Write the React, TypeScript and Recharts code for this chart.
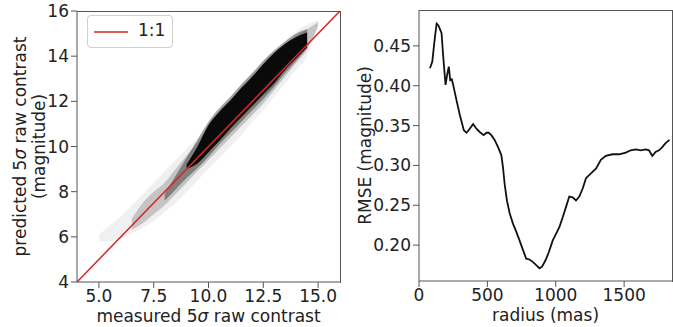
import { Area, ComposedChart, Line, LineChart, XAxis, YAxis } from 'recharts';

const measured = [4, 5.0, 5.5, 6.0, 6.5, 7.0, 7.5, 8.0, 8.5, 9.0, 9.5, 10.0, 10.5, 11.0, 11.5, 12.0, 12.5, 13.0, 13.5, 14.0, 14.5, 15.0, 16];
const outerLow = [null, 5.8, 5.8, 5.95, 6.15, 6.4, 6.7, 7.1, 7.5, 8.0, 8.5, 9.0, 9.5, 10.0, 10.5, 11.1, 11.6, 12.2, 12.8, 13.4, 14.0, 15.3, null];
const outerHigh = [null, 6.1, 6.5, 6.9, 7.4, 7.9, 8.4, 8.9, 9.4, 9.9, 10.4, 11.0, 11.6, 12.2, 12.8, 13.3, 13.8, 14.3, 14.7, 15.1, 15.4, 15.6, null];
const midLow = [null, null, null, null, 6.3, 6.6, 7.0, 7.4, 7.9, 8.4, 8.9, 9.4, 9.9, 10.4, 10.9, 11.4, 11.9, 12.5, 13.1, 13.7, 14.3, 15.35, null];
const midHigh = [null, null, null, null, 6.8, 7.5, 8.0, 8.4, 9.0, 9.6, 10.2, 10.9, 11.5, 12.0, 12.5, 13.0, 13.6, 14.0, 14.5, 14.9, 15.2, 15.5, null];
const darkLow = [null, null, null, null, null, null, null, 7.6, 8.1, 8.6, 9.05, 9.55, 10.1, 10.6, 11.1, 11.6, 12.1, 12.65, 13.25, 13.8, 14.35, null, null];
const darkHigh = [null, null, null, null, null, null, null, 7.9, 8.7, 9.5, 10.3, 11.1, 11.7, 12.2, 12.75, 13.25, 13.8, 14.25, 14.65, 15.0, 15.2, null, null];
const coreLow = [null, null, null, null, null, null, null, null, null, 9.0, 9.25, 9.75, 10.25, 10.8, 11.3, 11.8, 12.3, 12.8, 13.4, 13.9, 14.4, null, null];
const coreHigh = [null, null, null, null, null, null, null, null, null, 9.2, 10.0, 10.95, 11.55, 12.05, 12.6, 13.1, 13.65, 14.15, 14.55, 14.85, 15.05, null, null];
const identity = [4, null, null, null, null, null, null, null, null, null, null, null, null, null, null, null, null, null, null, null, null, null, 16];

const leftXTicks = [5, 7.5, 10, 12.5, 15];
const leftXTickLabels = ['5.0', '7.5', '10.0', '12.5', '15.0'];
const leftYTicks = [4, 6, 8, 10, 12, 14, 16];

// right panel: RMSE vs radius
const radius = [80, 97, 117, 129, 141, 153, 165, 177, 194, 206, 218, 228, 240, 250, 274, 299, 328, 347, 371, 396, 420, 444, 473, 493, 510, 529, 553, 578, 602, 614, 626, 643, 663, 687, 711, 735, 760, 784, 808, 832, 857, 881, 900, 925, 949, 978, 1002, 1027, 1051, 1075, 1099, 1124, 1148, 1172, 1197, 1221, 1257, 1294, 1330, 1366, 1415, 1464, 1512, 1548, 1585, 1621, 1657, 1682, 1706, 1730, 1755, 1779, 1803, 1832];
const rmse = [0.422, 0.43, 0.462, 0.478, 0.476, 0.471, 0.466, 0.437, 0.401, 0.414, 0.424, 0.407, 0.408, 0.401, 0.382, 0.363, 0.344, 0.341, 0.346, 0.352, 0.346, 0.342, 0.338, 0.341, 0.341, 0.338, 0.332, 0.323, 0.313, 0.298, 0.277, 0.256, 0.24, 0.227, 0.217, 0.206, 0.194, 0.183, 0.182, 0.179, 0.175, 0.171, 0.173, 0.181, 0.191, 0.206, 0.214, 0.223, 0.235, 0.248, 0.261, 0.26, 0.256, 0.261, 0.271, 0.284, 0.29, 0.296, 0.307, 0.312, 0.314, 0.314, 0.316, 0.319, 0.32, 0.319, 0.32, 0.319, 0.312, 0.317, 0.319, 0.323, 0.328, 0.332];

const rightXTicks = [0, 500, 1000, 1500];
const rightYTicks = [0.2, 0.25, 0.3, 0.35, 0.4, 0.45];

const FONT = '"DejaVu Sans", sans-serif';
const FS = 17;
const SPINE = '#555';
const RED = '#d62728';
const tickStyle = { fontSize: FS, fill: '#222', fontFamily: FONT };

const range = (lo: (number | null)[], hi: (number | null)[], i: number) => (lo[i] == null ? null : [lo[i], hi[i]]);

const leftData = measured.map((x, i) => ({
  x,
  outer: range(outerLow, outerHigh, i),
  mid: range(midLow, midHigh, i),
  dark: range(darkLow, darkHigh, i),
  core: range(coreLow, coreHigh, i),
  one: identity[i],
}));

const rightData = radius.map((r, i) => ({ r, v: rmse[i] }));

function LeftXTick(props: any) {
  const { x, y, payload, index } = props;
  const text = leftXTickLabels[index] ?? String(payload.value);
  return (
    <text x={x} y={y} dy="0.71em" textAnchor="middle" fontFamily={FONT} fontSize={FS} fill="#222">
      {text}
    </text>
  );
}

function LeftYLabel(props: any) {
  const vb = props.viewBox;
  const cy = vb.y + vb.height / 2;
  return (
    <g fontFamily={FONT} fontSize={FS} fill="#222">
      <text x={20} y={cy} transform={`rotate(-90, 20, ${cy})`} textAnchor="middle" dominantBaseline="central">
        predicted 5<tspan fontStyle="italic">σ</tspan> raw contrast
      </text>
      <text x={39} y={cy} transform={`rotate(-90, 39, ${cy})`} textAnchor="middle" dominantBaseline="central">
        (magnitude)
      </text>
    </g>
  );
}

function LeftXLabel(props: any) {
  const vb = props.viewBox;
  const cx = vb.x + vb.width / 2;
  return (
    <g fontFamily={FONT} fontSize={FS} fill="#222">
      <text x={cx} y={316} textAnchor="middle" dominantBaseline="central">
        measured 5<tspan fontStyle="italic">σ</tspan> raw contrast
      </text>
      <text x={cx} y={335} textAnchor="middle" dominantBaseline="central">
        (magnitude)
      </text>
    </g>
  );
}

function RightYLabel(props: any) {
  const vb = props.viewBox;
  const cy = vb.y + vb.height / 2;
  return (
    <text x={35} y={cy} transform={`rotate(-90, 35, ${cy})`} textAnchor="middle" dominantBaseline="central"
      fontFamily={FONT} fontSize={FS} fill="#222">
      RMSE (magnitude)
    </text>
  );
}

function RightXLabel(props: any) {
  const vb = props.viewBox;
  const cx = vb.x + vb.width / 2;
  return (
    <text x={cx} y={315} textAnchor="middle" dominantBaseline="central" fontFamily={FONT} fontSize={FS} fill="#222">
      radius (mas)
    </text>
  );
}

// top and right spines of each panel
function Frame({ left, top, width, height }: { left: number; top: number; width: number; height: number }) {
  return (
    <div style={{ position: 'absolute', left, top, width, height, boxSizing: 'border-box',
      borderTop: `1px solid ${SPINE}`, borderRight: `1px solid ${SPINE}`, pointerEvents: 'none' }} />
  );
}

export default function App() {
  return (
    <div style={{ position: 'absolute', left: 0, top: 0, width: 673, height: 327, overflow: 'hidden', background: '#fff' }}>
      <div style={{ position: 'absolute', left: 0, top: 0 }}>
        <ComposedChart width={345} height={327} data={leftData} margin={{ top: 11, right: 5, bottom: 0, left: 0 }}>
          <XAxis dataKey="x" type="number" domain={[4, 16]} ticks={leftXTicks} tick={<LeftXTick />}
            stroke={SPINE} height={45} interval={0} label={<LeftXLabel />} />
          <YAxis type="number" domain={[4, 16]} ticks={leftYTicks} tick={tickStyle} stroke={SPINE} width={77}
            interval={0} label={<LeftYLabel />} />
          <Area dataKey="outer" type="monotone" stroke="none" fill="#000" fillOpacity={0.06} isAnimationActive={false} legendType="none" />
          <Area dataKey="mid" type="monotone" stroke="none" fill="#000" fillOpacity={0.18} isAnimationActive={false} legendType="none" />
          <Area dataKey="dark" type="monotone" stroke="none" fill="#000" fillOpacity={0.35} isAnimationActive={false} legendType="none" />
          <Area dataKey="core" type="monotone" stroke="none" fill="#000" fillOpacity={0.92} isAnimationActive={false} legendType="none" />
          <Line dataKey="one" name="1:1" type="linear" stroke={RED} strokeWidth={1.5} dot={false} connectNulls isAnimationActive={false} />
        </ComposedChart>
        <Frame left={77} top={11} width={264} height={272} />
        <div style={{ position: 'absolute', left: 87, top: 15, width: 84, height: 31, border: '1px solid #d0d0d0', borderRadius: 4,
          background: 'rgba(255,255,255,0.8)', fontFamily: FONT, fontSize: FS, color: '#222' }}>
          <svg width={40} height={31} style={{ position: 'absolute', left: 0, top: 0 }}>
            <line x1={6} y1={16} x2={40} y2={16} stroke={RED} strokeWidth={1.5} />
          </svg>
          <span style={{ position: 'absolute', left: 50, top: 4 }}>1:1</span>
        </div>
      </div>
      <div style={{ position: 'absolute', left: 330, top: 0 }}>
        <LineChart width={343} height={327} data={rightData} margin={{ top: 10, right: 1, bottom: 0, left: 0 }}>
          <XAxis dataKey="r" type="number" domain={[0, 1850]} ticks={rightXTicks} tick={tickStyle} stroke={SPINE} height={46}
            interval={0} label={<RightXLabel />} />
          <YAxis type="number" domain={[0.155, 0.495]} ticks={rightYTicks} tickFormatter={(v: number) => v.toFixed(2)}
            tick={tickStyle} stroke={SPINE} width={89} interval={0} label={<RightYLabel />} />
          <Line dataKey="v" type="linear" stroke="#111" strokeWidth={1.8} dot={false} isAnimationActive={false} />
        </LineChart>
        <Frame left={89} top={10} width={254} height={272} />
      </div>
    </div>
  );
}
